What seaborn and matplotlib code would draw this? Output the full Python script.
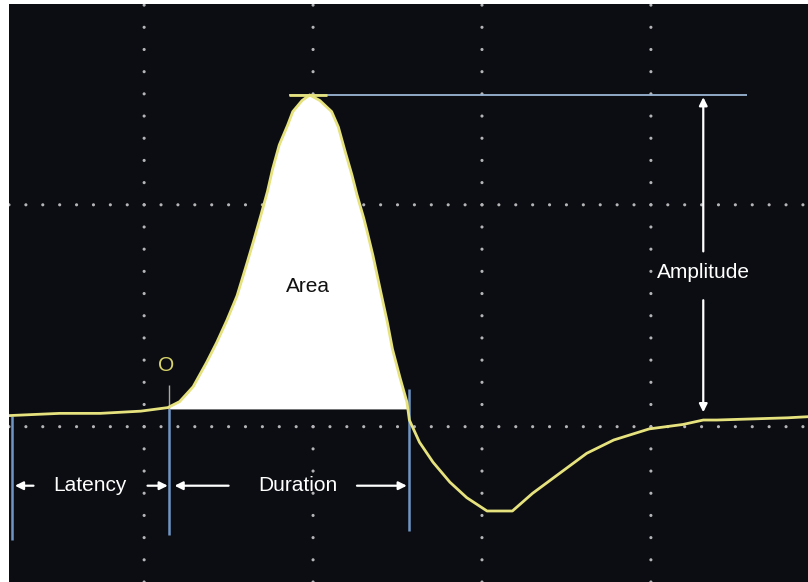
import numpy as np
import pandas as pd
import seaborn as sns
import matplotlib.pyplot as plt

# trace, in grid divisions
time_div = [-0.80, -0.50, -0.26, -0.02, 0.14, 0.21, 0.29, 0.37, 0.43, 0.49,
            0.55, 0.61, 0.645, 0.69, 0.73, 0.76, 0.80, 0.85, 0.88, 0.935,
            0.98, 1.04, 1.11, 1.15, 1.19, 1.23, 1.26, 1.30, 1.32, 1.355,
            1.40, 1.44, 1.47, 1.515, 1.556, 1.57, 1.63, 1.71, 1.81, 1.91,
            2.03, 2.18, 2.30, 2.46, 2.62, 2.78, 2.99, 3.19, 3.31, 3.39,
            3.81, 3.93]
volt_div = [0.05, 0.06, 0.06, 0.07, 0.086, 0.113, 0.18, 0.29, 0.38, 0.48,
            0.59, 0.74, 0.83, 0.95, 1.06, 1.16, 1.27, 1.36, 1.42, 1.47,
            1.495, 1.47, 1.42, 1.35, 1.24, 1.135, 1.045, 0.94, 0.88, 0.77,
            0.61, 0.47, 0.35, 0.22, 0.11, 0.03, -0.07, -0.16, -0.25, -0.32,
            -0.38, -0.38, -0.30, -0.21, -0.12, -0.06, -0.01, 0.01, 0.03, 0.03,
            0.04, 0.045]

onset = 0.15
offset = 1.57
start = -0.78
baseline = 0.08
peak = 1.495
amp_x = 3.31

grid_x = [0, 1, 2, 3]
grid_y = [0, 1]

xlim = (-0.80, 3.93)
ylim = (-0.70, 1.905)

df = pd.DataFrame({"t": time_div, "v": volt_div})

sns.set_style("dark")
plt.rcParams['font.family'] = ['Liberation Sans', 'DejaVu Sans']

fig = plt.figure(figsize=(8.08, 5.82), dpi=100, facecolor="white")
ax = fig.add_axes([9 / 808, 0, 799 / 808, 578 / 582])
ax.set_facecolor("#0c0d12")
ax.set_xlim(*xlim)
ax.set_ylim(*ylim)
ax.set_xticks([])
ax.set_yticks([])
for s in ax.spines.values():
    s.set_visible(False)

# dotted graticule
dots = []
for gx in grid_x:
    for k in range(-7, 20):
        dots.append((gx, k * 0.1))
for gy in grid_y:
    for k in range(-8, 40):
        dots.append((k * 0.1, gy))
dots = pd.DataFrame(dots, columns=["x", "y"])
sns.scatterplot(data=dots, x="x", y="y", ax=ax, s=5, color="#b5b5b8",
                edgecolor="none", zorder=1, legend=False)

# area under the positive phase
area = df[(df.t >= onset - 0.01) & (df.t <= offset - 0.01)]
ax.fill_between(area.t, area.v, baseline, color="white", zorder=2, lw=0)

# cursors
ax.hlines(peak, 0.86, 3.57, color="#9bb6d3", lw=1.3, zorder=3)
ax.hlines(peak, 0.86, 1.08, color="#e6e27e", lw=2.0, zorder=4)
ax.vlines(start, -0.51, 0.05, color="#6f95c4", lw=1.8, zorder=3)
ax.vlines(onset, -0.49, baseline, color="#6f95c4", lw=1.8, zorder=3)
ax.vlines(onset, baseline, 0.19, color="#a9a9a0", lw=1.0, zorder=3)
ax.vlines(offset, -0.47, 0.17, color="#6f95c4", lw=1.8, zorder=3)

sns.lineplot(data=df, x="t", y="v", ax=ax, color="#e6e27e", lw=2.0,
             estimator=None, sort=False, zorder=5)
ax.set_xlabel("")
ax.set_ylabel("")

arrow = dict(arrowstyle="-|>", color="white", lw=1.6, mutation_scale=12,
             shrinkA=0, shrinkB=0)
fs = 15
ax.annotate("", xy=(amp_x, peak - 0.01), xytext=(amp_x, 0.79), arrowprops=arrow)
ax.annotate("", xy=(amp_x, 0.065), xytext=(amp_x, 0.57), arrowprops=arrow)
ax.text(amp_x, 0.695, "Amplitude", color="white", fontsize=fs,
        ha="center", va="center")
ax.text(0.97, 0.63, "Area", color="#111111", fontsize=fs,
        ha="center", va="center", zorder=6)
ax.text(0.13, 0.275, "O", color="#d8d46a", fontsize=fs,
        ha="center", va="center")

yl = -0.266
ax.annotate("", xy=(-0.765, yl), xytext=(-0.655, yl), arrowprops=arrow)
ax.text(-0.32, yl, "Latency", color="white", fontsize=fs, ha="center", va="center")
ax.annotate("", xy=(0.14, yl), xytext=(0.02, yl), arrowprops=arrow)
ax.annotate("", xy=(0.18, yl), xytext=(0.50, yl), arrowprops=arrow)
ax.text(0.91, yl, "Duration", color="white", fontsize=fs, ha="center", va="center")
ax.annotate("", xy=(1.555, yl), xytext=(1.26, yl), arrowprops=arrow)

fig.savefig("out.png", dpi=100, facecolor="white")
